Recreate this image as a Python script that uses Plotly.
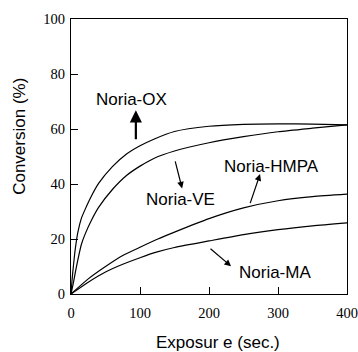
import plotly.graph_objects as go

# ---- data ----
ox_t  = [0, 1.5, 3, 6, 10, 15, 20, 30, 40, 60, 80, 100, 120, 150, 200, 250, 300, 350, 400]
ox_v  = [0, 5, 9, 16, 22.5, 27.5, 30.5, 35.8, 40.2, 46.3, 50.8, 53.9, 56.3, 59.1, 61.0, 61.7, 61.9, 61.8, 61.5]

ve_t  = [0, 3, 6, 10, 15, 20, 30, 40, 60, 80, 100, 120, 150, 200, 250, 300, 350, 400]
ve_v  = [0, 3.5, 7.5, 12.5, 18, 21.5, 27, 31.5, 38, 43, 46.5, 49.3, 52.0, 55.0, 57.2, 59.0, 60.3, 61.5]

hm_t  = [0, 25, 50, 75, 100, 125, 150, 200, 250, 300, 350, 400]
hm_v  = [0, 5.5, 10, 14, 17, 19.9, 22.5, 27.4, 31.3, 33.9, 35.4, 36.3]

ma_t  = [0, 25, 50, 75, 100, 125, 150, 200, 250, 300, 350, 400]
ma_v  = [0, 4.3, 8, 10.8, 13.2, 15.3, 16.9, 19.3, 21.6, 23.4, 24.8, 25.9]

x_ticks = [0, 100, 200, 300, 400]
y_ticks = [0, 20, 40, 60, 80, 100]

labels = ["Noria-OX", "Noria-VE", "Noria-HMPA", "Noria-MA"]
label_pos = [(87, 70.8), (158, 34.5), (290, 46.3), (296, 8.0)]
# arrows: (tail_x, tail_y, tip_x, tip_y) in data units
arrows = [(94, 55.7, 94, 66.8), (150.5, 48.8, 161, 38.4),
          (259, 32.5, 274, 43.6), (200, 16.9, 232, 10.1)]
arrow_w = [2.2, 1.2, 1.2, 1.2]

SANS = "Liberation Sans, Arial, sans-serif"
SERIF = "Liberation Serif"

fig = go.Figure()
for t, v in [(ox_t, ox_v), (ve_t, ve_v), (hm_t, hm_v), (ma_t, ma_v)]:
    fig.add_trace(go.Scatter(x=t, y=v, mode="lines",
                             line=dict(color="black", width=1.2, shape="spline", smoothing=0.6),
                             showlegend=False, hoverinfo="skip"))

ann = []
for lab, (x, y) in zip(labels, label_pos):
    ann.append(dict(x=x, y=y, xref="x", yref="y", text=lab, showarrow=False,
                    xanchor="center", yanchor="middle",
                    font=dict(family=SANS, size=17, color="black")))
for (tx, ty, hx, hy), w in zip(arrows, arrow_w):
    ann.append(dict(x=hx, y=hy, ax=tx, ay=ty, xref="x", yref="y", axref="x", ayref="y",
                    text="", showarrow=True, arrowhead=2, arrowsize=1.1, arrowwidth=w,
                    arrowcolor="black", standoff=0, startstandoff=0))
ann.append(dict(x=-0.185, y=0.575, xref="paper", yref="paper", text="Conversion (%)", textangle=-90,
                xanchor="center", yanchor="middle",
                showarrow=False, font=dict(family=SANS, size=17, color="black")))
ann.append(dict(x=0.531, y=-0.176, xref="paper", yref="paper", text="Exposur e (sec.)",
                xanchor="center", yanchor="middle",
                showarrow=False, font=dict(family=SANS, size=17, color="black")))

fig.update_layout(
    width=358, height=352,
    margin=dict(l=71, r=11, t=19, b=57.5),
    paper_bgcolor="white", plot_bgcolor="white",
    font=dict(family=SERIF, size=14, color="black"),
    annotations=ann,
    xaxis=dict(range=[0, 400], tickvals=x_ticks, ticktext=[str(v) for v in x_ticks],
               showline=True, linecolor="black", linewidth=1, mirror=True, automargin=False,
               ticks="inside", ticklen=7, tickcolor="black", showgrid=False, zeroline=False,
               tickfont=dict(family=SERIF, size=14.5, color="black"),
               ticklabelstandoff=6),
    yaxis=dict(range=[0, 100], tickvals=y_ticks, ticktext=[str(v) for v in y_ticks],
               showline=True, linecolor="black", linewidth=1, mirror=True, automargin=False,
               ticks="inside", ticklen=7, tickcolor="black", showgrid=False, zeroline=False,
               tickfont=dict(family=SERIF, size=14.5, color="black"),
               ticklabelstandoff=2),
)
fig.write_html("out.html", config={"displayModeBar": False},
               post_script="document.body.style.margin='0';document.body.style.padding='0';")
